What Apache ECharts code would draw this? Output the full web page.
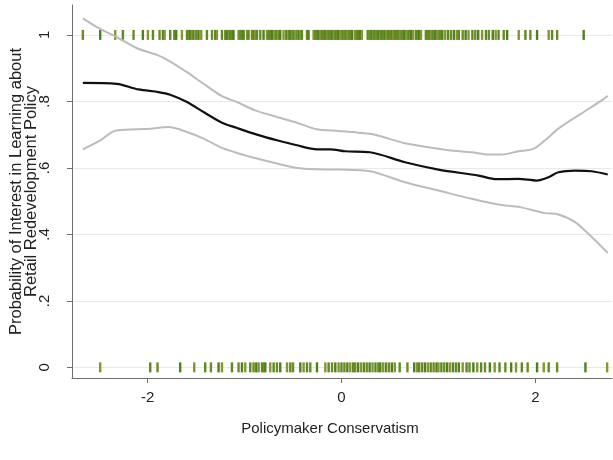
<!DOCTYPE html>
<html lang="en">
	<head>
		<meta charset="utf-8" />
		<title>Policymaker Conservatism</title>
		<style>
			html, body { margin: 0; padding: 0; background: #fff; }
			#lineMap { width: 613px; height: 460px; }
		</style>
	</head>

	<body>
		<div id="lineMap"></div>

		<script type="text/javascript" src="https://cdn.jsdelivr.net/npm/echarts@6.0.0/dist/echarts.min.js"></script>
		<script type="text/javascript">
			// tick values and labels
			var xTicks = [-2, 0, 2];
			var yTicks = [0, 0.2, 0.4, 0.6, 0.8, 1];
			var yTickLabels = ['0', '.2', '.4', '.6', '.8', '1'];

			// fitted probability (black)
			var fitX = [-2.668, -2.317, -2.094, -1.888, -1.767, -1.594, -1.423, -1.233, -1.078, -0.872, -0.666, -0.459, -0.253, -0.116, 0.039, 0.294, 0.655, 0.999, 1.412, 1.601, 1.825, 2.013, 2.134, 2.237, 2.410, 2.581, 2.746];
			var fitY = [0.856, 0.853, 0.836, 0.828, 0.820, 0.798, 0.768, 0.736, 0.720, 0.700, 0.683, 0.668, 0.656, 0.656, 0.650, 0.647, 0.617, 0.595, 0.577, 0.566, 0.567, 0.562, 0.572, 0.587, 0.592, 0.590, 0.580];

			// upper bound (gray)
			var upperX = [-2.668, -2.489, -2.317, -2.110, -1.904, -1.784, -1.594, -1.423, -1.233, -1.078, -0.890, -0.666, -0.459, -0.253, -0.033, 0.173, 0.346, 0.655, 1.102, 1.343, 1.515, 1.652, 1.825, 1.979, 2.100, 2.237, 2.444, 2.684, 2.746];
			var upperY = [1.050, 1.018, 0.993, 0.960, 0.940, 0.923, 0.888, 0.853, 0.816, 0.798, 0.773, 0.753, 0.736, 0.716, 0.711, 0.706, 0.700, 0.674, 0.653, 0.647, 0.640, 0.640, 0.650, 0.657, 0.683, 0.718, 0.758, 0.803, 0.817];

			// lower bound (gray)
			var lowerX = [-2.668, -2.489, -2.334, -2.110, -1.973, -1.784, -1.594, -1.423, -1.233, -1.078, -0.872, -0.666, -0.459, -0.253, -0.033, 0.294, 0.655, 0.999, 1.343, 1.618, 1.842, 2.100, 2.237, 2.410, 2.581, 2.746];
			var lowerY = [0.656, 0.683, 0.712, 0.716, 0.718, 0.723, 0.708, 0.688, 0.660, 0.645, 0.628, 0.613, 0.600, 0.596, 0.595, 0.590, 0.557, 0.532, 0.507, 0.490, 0.482, 0.464, 0.460, 0.437, 0.392, 0.344];

			// rug: policymakers interested (y = 1)
			var rugTop = [-2.668, -2.489, -2.334, -2.255, -2.145, -2.049, -1.997, -1.945, -1.877, -1.842, -1.825, -1.767, -1.725, -1.705, -1.646, -1.594, -1.578, -1.560, -1.543, -1.526, -1.498, -1.475, -1.447, -1.388, -1.336, -1.302, -1.285, -1.233, -1.199, -1.182, -1.161, -1.148, -1.130, -1.114, -1.062, -1.044, -1.027, -1.010, -0.975, -0.959, -0.924, -0.900, -0.890, -0.872, -0.838, -0.804, -0.769, -0.752, -0.735, -0.717, -0.693, -0.673, -0.649, -0.632, -0.598, -0.570, -0.546, -0.528, -0.511, -0.494, -0.466, -0.443, -0.425, -0.408, -0.356, -0.340, -0.288, -0.270, -0.253, -0.236, -0.219, -0.201, -0.185, -0.167, -0.150, -0.133, -0.116, -0.098, -0.082, -0.064, -0.046, -0.030,
				-0.01, 0.01, 0.03, 0.05, 0.06, 0.08, 0.10, 0.11, 0.14, 0.16, 0.18, 0.19, 0.21, 0.27, 0.29, 0.31, 0.33, 0.34, 0.36, 0.38, 0.40, 0.41, 0.43, 0.45, 0.46, 0.48, 0.50, 0.52, 0.53, 0.55, 0.57, 0.59, 0.60, 0.62, 0.64, 0.65, 0.67, 0.69, 0.71, 0.72, 0.74, 0.77, 0.79, 0.80, 0.82, 0.87, 0.89, 0.91, 0.92, 0.94, 0.96, 0.97, 0.99, 1.01, 1.02, 1.04, 1.07, 1.10, 1.13, 1.16, 1.19, 1.21, 1.25, 1.28, 1.31, 1.35, 1.38, 1.41, 1.45, 1.49, 1.52, 1.56, 1.59, 1.62,
				1.673, 1.708, 1.828, 1.897, 1.948, 2.017, 2.137, 2.172, 2.224, 2.498];

			// rug: policymakers not interested (y = 0)
			var rugBottom = [-2.489, -1.973, -1.898, -1.664, -1.519, -1.406, -1.347, -1.268, -1.233, -1.130, -1.062, -1.027, -0.993, -0.941, -0.907, -0.879, -0.855, -0.820, -0.804, -0.786, -0.735, -0.700, -0.666, -0.632, -0.562, -0.528, -0.500, -0.425, -0.391, -0.356, -0.322, -0.253, -0.167, -0.133, -0.098, -0.064, -0.030,
				0.00, 0.03, 0.06, 0.09, 0.12, 0.14, 0.17, 0.20, 0.23, 0.26, 0.29, 0.32, 0.35, 0.38, 0.40, 0.43, 0.46, 0.49, 0.52, 0.55, 0.60, 0.68, 0.75, 0.78, 0.80, 0.83, 0.86, 0.89, 0.92, 0.95, 0.98, 1.00, 1.03, 1.06, 1.09, 1.12, 1.15, 1.18, 1.21, 1.25, 1.29, 1.32, 1.36, 1.40, 1.44, 1.48, 1.53, 1.58, 1.63, 1.69, 1.75, 1.80, 1.86, 1.92,
				2.017, 2.086, 2.137, 2.224, 2.516, 2.740];

			var rugColors = ['#6f8a22', '#4a8220', '#879530', '#5b8a24'];
			var fontName = '"Liberation Sans", Arial, sans-serif';

			function pairs(xs, ys) {
				var out = [];
				for (var i = 0; i < xs.length; i++) {
					out.push([xs[i], ys[i]]);
				}
				return out;
			}

			function rug(xs, level) {
				return xs.map(function (x) { return [x, level]; });
			}

			// draw the chart
			function loadLine() {
				var lineChart = echarts.init(document.getElementById('lineMap'));

				var option = {
					animation: false,
					backgroundColor: '#ffffff',
					grid: { left: 72, right: 1, top: 5, bottom: 82, outerBoundsMode: 'none', containLabel: false },
					xAxis: {
						type: 'value',
						min: -2.78,
						max: 2.79,
						name: 'Policymaker Conservatism',
						nameLocation: 'middle',
						nameGap: 43,
						nameMoveOverlap: false,
						nameTextStyle: { fontFamily: fontName, fontSize: 15, color: '#222', padding: [0, 24, 0, 0] },
						axisLine: { show: true, onZero: false, lineStyle: { color: '#6e6e6e', width: 1 } },
						axisTick: { show: true, length: 5, customValues: xTicks, lineStyle: { color: '#6e6e6e' } },
						axisLabel: { customValues: xTicks, margin: 12, fontFamily: fontName, fontSize: 15, color: '#222' },
						splitLine: { show: false }
					},
					yAxis: {
						type: 'value',
						min: -0.032,
						max: 1.09,
						name: 'Probability of Interest in Learning about\nRetail Redevelopment Policy',
						nameLocation: 'middle',
						nameGap: 33,
						nameMoveOverlap: false,
						nameTextStyle: { fontFamily: fontName, fontSize: 16.5, lineHeight: 15, color: '#222' },
						axisLine: { show: true, onZero: false, lineStyle: { color: '#6e6e6e', width: 1 } },
						axisTick: { show: true, length: 5, customValues: yTicks, lineStyle: { color: '#6e6e6e' } },
						axisLabel: {
							customValues: yTicks,
							rotate: 90,
							margin: 20,
							fontFamily: fontName,
							fontSize: 15,
							color: '#222',
							formatter: function (v) {
								var i = yTicks.indexOf(Math.round(v * 10) / 10);
								return i >= 0 ? yTickLabels[i] : '';
							}
						},
						splitLine: { show: true, lineStyle: { color: '#e3ebee', width: 1 } }
					},
					series: [
						{
							name: 'rugTop',
							type: 'scatter',
							symbol: 'rect',
							symbolSize: [2.4, 10],
							silent: true,
							itemStyle: {
								opacity: 1,
								color: function (p) { return rugColors[p.dataIndex % 4]; }
							},
							data: rug(rugTop, 1)
						},
						{
							name: 'rugBottom',
							type: 'scatter',
							symbol: 'rect',
							symbolSize: [2.4, 10],
							silent: true,
							itemStyle: {
								opacity: 1,
								color: function (p) { return rugColors[(p.dataIndex + 2) % 4]; }
							},
							data: rug(rugBottom, 0)
						},
						{
							name: 'upper',
							type: 'line',
							smooth: 0.3,
							showSymbol: false,
							lineStyle: { color: '#bcbcbc', width: 2 },
							data: pairs(upperX, upperY)
						},
						{
							name: 'lower',
							type: 'line',
							smooth: 0.3,
							showSymbol: false,
							lineStyle: { color: '#bcbcbc', width: 2 },
							data: pairs(lowerX, lowerY)
						},
						{
							name: 'fit',
							type: 'line',
							smooth: 0.3,
							showSymbol: false,
							lineStyle: { color: '#111111', width: 2.2 },
							data: pairs(fitX, fitY)
						}
					]
				};

				lineChart.setOption(option);
			}

			loadLine();
		</script>
	</body>
</html>
